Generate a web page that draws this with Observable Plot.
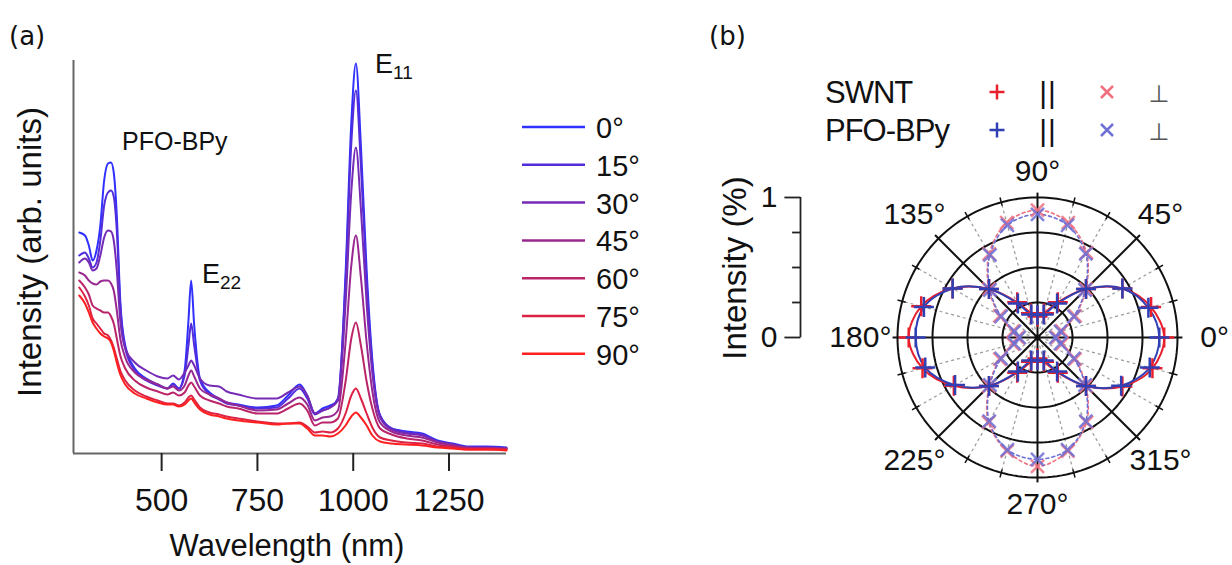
<!DOCTYPE html>
<html><head><meta charset="utf-8">
<script src="https://cdn.jsdelivr.net/npm/d3@7"></script>
<script src="https://cdn.jsdelivr.net/npm/@observablehq/plot@0.6"></script>
<style>
body{margin:0;background:#fff;}
#root{position:relative;width:1232px;height:565px;overflow:hidden;font-family:"Liberation Sans",Arial,sans-serif;}
#root > * {position:absolute;}
</style></head><body><div id="root"></div>
<script>
// ---------- Panel (a): PL spectra ----------
const wavelengths = [285,300,310,320,330,340,350,360,368,375,383,392,405,430,460,490,515,530,545,560,570,577,585,600,625,650,670,700,750,800,830,860,880,900,920,940,960,980,995,1007,1020,1035,1050,1070,1100,1140,1180,1220,1260,1300,1350,1400];
const angleLabelsA = ["0°","15°","30°","45°","60°","75°","90°"];
const spec0  = [221,218,208,193,203,228,273,290,291,281,238,153,108,85,75,69,65,70,65,83,133,173,128,75,61,55,51,49,46,48,58,69,58,40,45,48,53,180,331,390,308,183,93,38,25,22,20,13,10,7,7,6];
const spec15 = [198,201,195,186,191,213,248,261,263,257,223,148,105,83,73,68,65,69,65,78,108,130,108,73,59,54,50,48,45,46,55,65,55,39,43,46,55,172,310,363,288,172,88,38,25,21,19,12,9,6,6,5];
const spec30 = [191,195,191,183,185,198,216,223,222,213,183,133,105,91,83,77,75,78,74,81,88,93,88,75,68,67,62,59,55,55,61,67,58,40,43,46,53,150,262,306,245,150,80,36,24,20,18,12,9,6,6,5];
const spec45 = [181,178,173,170,169,172,173,173,170,163,143,115,96,81,74,69,65,67,63,68,78,83,77,65,59,55,51,48,43,44,50,56,49,33,36,37,43,111,188,218,176,111,62,31,22,18,16,11,8,6,5,5];
const spec60 = [173,166,159,148,145,143,141,141,137,130,115,98,85,73,66,62,59,61,58,61,68,71,67,58,53,50,47,45,40,40,45,50,43,28,31,31,35,72,115,131,108,72,45,25,19,15,13,9,7,5,5,4];
const spec75 = [166,157,148,135,130,125,120,118,113,106,95,83,73,63,57,53,50,50,48,51,56,58,54,46,41,39,37,35,32,30,30,31,27,21,22,21,25,40,58,65,55,40,26,16,13,11,10,7,6,4,4,4];
const spec90 = [158,150,141,131,125,120,117,115,111,103,91,79,69,60,55,51,49,49,47,49,53,55,51,44,39,37,35,33,31,29,30,30,25,18,18,17,20,28,37,41,36,28,18,12,10,9,8,6,5,4,4,3];
const xTicks = [500, 750, 1000, 1250];

// ---------- Panel (b): polar data ----------
const polarAngles = [0,15,30,45,60,75,90,105,120,135,150,165,180,195,210,225,240,255,270,285,300,315,330,345];
const parSWNT  = [0.905,0.84,0.70,0.49,0.29,0.18,0.15,0.18,0.29,0.49,0.70,0.86,0.92,0.85,0.69,0.49,0.29,0.18,0.15,0.18,0.29,0.49,0.70,0.85];
const parPFO   = [0.87,0.82,0.70,0.49,0.28,0.17,0.16,0.17,0.28,0.49,0.70,0.84,0.87,0.83,0.68,0.49,0.28,0.17,0.16,0.17,0.28,0.49,0.69,0.83];
const perpSWNT = [0.14,0.18,0.31,0.49,0.70,0.85,0.91,0.85,0.69,0.49,0.31,0.18,0.14,0.18,0.31,0.49,0.70,0.84,0.92,0.84,0.70,0.49,0.31,0.18];
const perpPFO  = [0.13,0.17,0.30,0.48,0.69,0.83,0.88,0.83,0.68,0.48,0.30,0.17,0.13,0.17,0.30,0.48,0.69,0.83,0.87,0.83,0.69,0.48,0.30,0.17];
const ringRadii = [0.25, 0.5, 0.75, 1];
const axisTicksB = [0, 0.25, 0.5, 0.75, 1];
const axisLabelsB = [0, 1];
const labelAngles = [0,45,90,135,180,225,270,315];

// ---------- styles ----------
const FONT = "Liberation Sans, Arial, Helvetica, sans-serif";
const specColors = angleLabelsA.map((_, i) => d3.interpolateRgb("#3030ff", "#ff2020")(i / 6));
const C = {redPar: "#e8202e", bluePar: "#3040b4", redPerp: "#f07080", bluePerp: "#6e70d4"};

const root = document.getElementById("root");

// ---------- Plot (a) ----------
const specSeries = [spec0, spec15, spec30, spec45, spec60, spec75, spec90];
const specData = specSeries.flatMap((s, k) => s.map((v, i) => ({wl: wavelengths[i], I: v, angle: angleLabelsA[k]})));

const plotA = Plot.plot({
  width: 520, height: 565,
  marginLeft: 73, marginRight: 14, marginTop: 60, marginBottom: 112,
  style: {fontFamily: FONT, fontSize: "32px", background: "transparent", overflow: "visible", color: "#111"},
  x: {domain: [270, 1400]},
  y: {domain: [0, 393], axis: null},
  color: {domain: angleLabelsA, range: specColors},
  marks: [
    Plot.ruleX([270], {stroke: "#666", strokeWidth: 2}),
    Plot.ruleY([0], {stroke: "#666", strokeWidth: 2}),
    Plot.axisX(xTicks, {tickSize: 18, tickPadding: 17, strokeWidth: 2, fontSize: 32, label: null, tickFormat: d => String(d), stroke: "#222"}),
    Plot.line(specData, {x: "wl", y: "I", z: "angle", stroke: "angle", strokeWidth: 2, curve: "monotone-x"})
  ]
});
plotA.style.left = "0px"; plotA.style.top = "0px";
root.appendChild(plotA);

// ---------- Plot (b) polar ----------
const S = 140, W = 532, H = 415, cx = 337, cy = 187;
const rad = d => d * Math.PI / 180;
const px = (r, a) => r * Math.cos(rad(a));
const py = (r, a) => r * Math.sin(rad(a));

const ringData = ringRadii.flatMap(r => d3.range(0, 360, 2).map(a => ({r, a})));
const minorAngles = d3.range(0, 360, 15).filter(a => a % 45 !== 0);
const polarRows = (arr, key) => polarAngles.map((a, i) => ({a, r: arr[i], key}));
const rowsParSWNT = polarRows(parSWNT, "SWNT par");
const rowsParPFO = polarRows(parPFO, "PFO par");
const rowsPerpSWNT = polarRows(perpSWNT, "SWNT perp");
const rowsPerpPFO = polarRows(perpPFO, "PFO perp");
const AX = (800 - 1037) / S;
const labR = a => 1.19 + 0.075 * Math.abs(Math.cos(rad(a)));

const plotB = Plot.plot({
  width: W, height: H, margin: 0,
  style: {fontFamily: FONT, fontSize: "30px", background: "transparent", overflow: "visible", color: "#111"},
  x: {domain: [-cx / S, (W - cx) / S], axis: null},
  y: {domain: [-(H - cy) / S, cy / S], axis: null},
  marks: [
    Plot.link(minorAngles, {x1: a => px(0.06, a), y1: a => py(0.06, a), x2: a => px(1, a), y2: a => py(1, a), stroke: "#9a9a9a", strokeWidth: 1.2, strokeDasharray: "3,3"}),
    Plot.line(ringData, {x: d => px(d.r, d.a), y: d => py(d.r, d.a), z: "r", stroke: "#111", strokeWidth: 2, curve: "linear-closed"}),
    Plot.link(labelAngles, {x1: 0, y1: 0, x2: a => px(1.035, a), y2: a => py(1.035, a), stroke: "#111", strokeWidth: 2}),
    Plot.link(minorAngles, {x1: a => px(0.975, a), y1: a => py(0.975, a), x2: a => px(1.035, a), y2: a => py(1.035, a), stroke: "#111", strokeWidth: 1.5}),
    Plot.dot([0], {x: 0, y: 0, r: 3, fill: "#111"}),
    // perpendicular (dashed, x)
    Plot.line(rowsPerpSWNT, {x: d => px(d.r, d.a), y: d => py(d.r, d.a), stroke: C.redPerp, strokeWidth: 1.6, strokeDasharray: "3,3", curve: "catmull-rom-closed"}),
    Plot.line(rowsPerpPFO, {x: d => px(d.r, d.a), y: d => py(d.r, d.a), stroke: C.bluePerp, strokeWidth: 1.6, strokeDasharray: "3,3", curve: "catmull-rom-closed"}),
    Plot.dot(rowsPerpSWNT, {x: d => px(d.r, d.a), y: d => py(d.r, d.a), symbol: "times", r: 6, stroke: C.redPerp, strokeWidth: 2.5, strokeOpacity: 0.85}),
    Plot.dot(rowsPerpPFO, {x: d => px(d.r, d.a), y: d => py(d.r, d.a), symbol: "times", r: 6, stroke: C.bluePerp, strokeWidth: 2.5, strokeOpacity: 0.85}),
    // parallel (solid, +)
    Plot.line(rowsParSWNT, {x: d => px(d.r, d.a), y: d => py(d.r, d.a), stroke: C.redPar, strokeWidth: 2, curve: "catmull-rom-closed"}),
    Plot.line(rowsParPFO, {x: d => px(d.r, d.a), y: d => py(d.r, d.a), stroke: C.bluePar, strokeWidth: 2, curve: "catmull-rom-closed"}),
    Plot.dot(rowsParSWNT, {x: d => px(d.r, d.a), y: d => py(d.r, d.a), symbol: "plus", r: 6.5, stroke: C.redPar, strokeWidth: 2.5}),
    Plot.dot(rowsParPFO, {x: d => px(d.r, d.a), y: d => py(d.r, d.a), symbol: "plus", r: 6.5, stroke: C.bluePar, strokeWidth: 2.5}),
    // angle labels
    Plot.text(labelAngles, {x: a => px(labR(a), a), y: a => py(labR(a), a), text: a => a + "°", fontSize: 30, fill: "#111"}),
    // radial intensity axis
    Plot.ruleX([AX], {y1: 0, y2: 1, stroke: "#222", strokeWidth: 1.8}),
    Plot.link(axisTicksB, {x1: AX, x2: v => AX - ((v === 0 || v === 1) ? 0.115 : 0.06), y1: v => v, y2: v => v, stroke: "#222", strokeWidth: 1.8}),
    Plot.text(axisLabelsB, {x: (777 - 1037) / S, y: v => v, text: v => String(v), textAnchor: "end", fontSize: 30, fill: "#111"})
  ]
});
plotB.style.left = "700px"; plotB.style.top = "150px";
root.appendChild(plotB);

// ---------- overlay: titles, annotations, legends ----------
const svg = d3.select(root).append("svg")
  .attr("width", 1232).attr("height", 565)
  .style("left", "0px").style("top", "0px").style("pointer-events", "none")
  .style("font-family", FONT).attr("fill", "#111");

svg.append("text").attr("x", 9).attr("y", 45).attr("font-family", "DejaVu Sans").attr("font-size", 26).text("(a)");
svg.append("text").attr("x", 709).attr("y", 45).attr("font-family", "DejaVu Sans").attr("font-size", 26).text("(b)");

svg.append("text").attr("transform", "translate(41,252) rotate(-90)").attr("text-anchor", "middle").attr("font-size", 33).text("Intensity (arb. units)");
svg.append("text").attr("x", 287).attr("y", 556).attr("text-anchor", "middle").attr("font-size", 31).text("Wavelength (nm)");

svg.append("text").attr("x", 122).attr("y", 150).attr("font-size", 25).text("PFO-BPy");
const e22 = svg.append("text").attr("x", 202).attr("y", 283).attr("font-size", 27).text("E");
e22.append("tspan").attr("font-size", 19).attr("dy", 6).text("22");
const e11 = svg.append("text").attr("x", 375).attr("y", 73).attr("font-size", 27).text("E");
e11.append("tspan").attr("font-size", 19).attr("dy", 6).text("11");

// legend (a)
angleLabelsA.forEach((lab, i) => {
  const y = 127 + i * 37.8;
  svg.append("line").attr("x1", 522).attr("x2", 585).attr("y1", y).attr("y2", y).attr("stroke", specColors[i]).attr("stroke-width", 2.5);
  svg.append("text").attr("x", 596).attr("y", y + 11).attr("font-size", 29).text(lab);
});

// y title (b)
svg.append("text").attr("transform", "translate(746,268) rotate(-90)").attr("text-anchor", "middle").attr("font-size", 33).text("Intensity (%)");

// legend (b)
const legRows = [{name: "SWNT", y: 92, plus: C.redPar, times: C.redPerp}, {name: "PFO-BPy", y: 130, plus: C.bluePar, times: C.bluePerp}];
legRows.forEach(row => {
  svg.append("text").attr("x", 825).attr("y", row.y + 11).attr("font-size", 31).attr("letter-spacing", -1).text(row.name);
  const p = 7.5;
  svg.append("path").attr("d", `M${997 - p},${row.y}H${997 + p}M997,${row.y - p}V${row.y + p}`).attr("stroke", row.plus).attr("stroke-width", 2.5).attr("fill", "none");
  const t = 6;
  svg.append("path").attr("d", `M${1107 - t},${row.y - t}L${1107 + t},${row.y + t}M${1107 - t},${row.y + t}L${1107 + t},${row.y - t}`).attr("stroke", row.times).attr("stroke-width", 2.5).attr("fill", "none");
  svg.append("text").attr("x", 1048).attr("y", row.y + 11).attr("text-anchor", "middle").attr("font-size", 30).attr("letter-spacing", 1).text("||");
  svg.append("text").attr("x", 1159).attr("y", row.y + 10).attr("text-anchor", "middle").attr("font-size", 24).attr("fill", "#555").attr("font-family", "DejaVu Sans").text("⊥");
});
</script></body></html>
